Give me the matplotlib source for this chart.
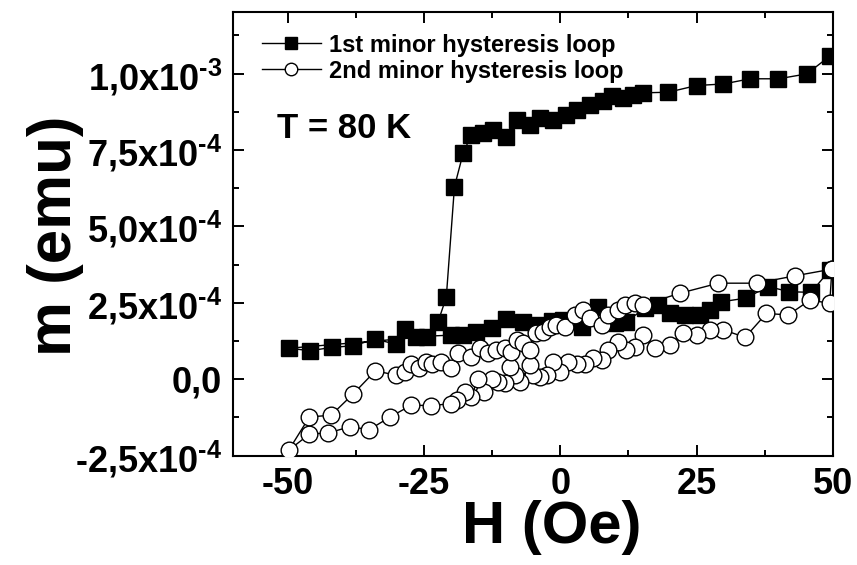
import matplotlib
matplotlib.use('Agg')
import matplotlib.pyplot as plt
from matplotlib.ticker import FixedLocator, MultipleLocator, FixedFormatter

plt.rcParams['font.family'] = ['Liberation Sans', 'DejaVu Sans']
plt.rcParams['font.weight'] = 'bold'
plt.rcParams['mathtext.fontset'] = 'custom'
plt.rcParams['mathtext.rm'] = 'Liberation Sans:bold'
plt.rcParams['mathtext.bf'] = 'Liberation Sans:bold'
plt.rcParams['mathtext.it'] = 'Liberation Sans:bold'
plt.rcParams['mathtext.default'] = 'rm'

# ---- data (m in units of 1e-4 emu) ----
# 1st minor loop: descending lower branch, then ascending through the jump to the upper branch
h1 = [49.4, 46.0, 42.0, 38.1, 34.0, 29.5, 27.4, 25.6, 22.8, 20.1, 17.9, 15.5, 12.1, 10.0,
      7.0, 4.0, 0.5, -1.6, -4.4, -6.8, -9.9, -12.5, -15.4, -17.8, -20.0, -26.4, -28.5,
      -30.1, -33.9, -38.0, -41.9, -45.8, -49.8,
      -24.4, -22.4, -20.9, -19.4, -17.8, -16.3, -14.2, -12.3, -9.9, -8.0, -5.6, -3.8, -1.3,
      1.1, 3.0, 5.4, 7.9, 9.4, 11.5, 13.4, 15.2, 19.8, 25.0, 29.9, 34.8, 40.0, 45.2, 49.4]
m1 = [3.57, 2.84, 2.86, 3.03, 2.65, 2.53, 2.26, 2.10, 2.10, 2.15, 2.43, 2.32, 1.88, 1.85,
      2.37, 1.72, 1.95, 1.90, 1.77, 1.88, 1.96, 1.68, 1.55, 1.44, 1.44, 1.39, 1.63,
      1.14, 1.31, 1.09, 1.04, 0.93, 1.01,
      1.39, 1.88, 2.68, 6.30, 7.40, 8.00, 8.06, 8.16, 7.94, 8.49, 8.33, 8.55, 8.49,
      8.66, 8.82, 8.98, 9.09, 9.26, 9.20, 9.31, 9.37, 9.39, 9.61, 9.66, 9.83, 9.83, 9.99, 10.57]

# 2nd minor loop: descending (lower) branch, then ascending (upper) branch
h2 = [49.8, 49.4, 45.8, 41.8, 37.8, 33.9, 29.9, 27.4, 25.0, 22.5, 20.1, 17.3, 15.2, 13.7,
      12.1, 10.6, 8.8, 7.6, 6.0, 4.5, 3.0, 1.4, -0.1, -1.3, -2.5, -3.8, -5.0, -5.6, -7.4,
      -8.3, -9.3, -10.2, -11.4, -12.6, -13.9, -15.1, -16.3, -17.5, -19.0, -20.0, -23.7,
      -27.3, -31.2, -35.0, -38.6, -42.5, -46.0, -49.8,
      -46.0, -42.0, -38.0, -33.9, -30.1, -28.4, -27.4, -25.9, -24.6, -23.6, -21.8, -20.0,
      -18.8, -16.3, -14.8, -13.2, -11.7, -10.2, -9.0, -8.0, -6.8, -5.6, -4.4, -3.2, -1.9,
      -0.7, 0.8, 2.7, 4.2, 5.4, 7.6, 8.8, 10.6, 11.8, 13.7, 15.2, 21.9, 29.0, 36.0, 43.0, 49.8]
m2 = [3.60, 2.48, 2.59, 2.10, 2.15, 1.37, 1.61, 1.61, 1.44, 1.50, 1.11, 1.01, 1.44, 1.06,
      0.95, 1.22, 0.95, 0.62, 0.68, 0.51, 0.51, 0.57, 0.24, 0.57, 0.13, 0.08, 0.13, 0.46, -0.09,
      0.13, 0.40, -0.14, -0.09, 0.02, -0.42, 0.02, -0.58, -0.42, -0.69, -0.80, -0.87,
      -0.85, -1.24, -1.65, -1.56, -1.76, -1.80, -2.33,
      -1.24, -1.18, -0.49, 0.27, 0.13, 0.24, 0.51, 0.35, 0.57, 0.51, 0.57, 0.35,
      0.84, 0.73, 1.01, 0.84, 0.95, 1.01, 0.90, 1.28, 1.17, 0.95, 1.50, 1.55, 1.71,
      1.77, 1.71, 2.10, 2.26, 1.99, 1.77, 2.10, 2.26, 2.43, 2.48, 2.43, 2.81, 3.14, 3.14, 3.38, 3.60]

labels = ['1st minor hysteresis loop', '2nd minor hysteresis loop']
x_ticks = [-50, -25, 0, 25, 50]
x_ticklabels = ['-50', '-25', '0', '25', '50']
y_ticks = [-2.5e-4, 0.0, 2.5e-4, 5.0e-4, 7.5e-4, 1.0e-3]
y_ticklabels = ['-2,5x10$^{\u20104}$', '0,0', '2,5x10$^{\u20104}$', '5,0x10$^{\u20104}$',
                '7,5x10$^{\u20104}$', '1,0x10$^{\u20103}$']
scale = 1e-4

fig = plt.figure(figsize=(8.57, 5.65), dpi=100)
ax = fig.add_axes([0.2719, 0.1938, 0.7001, 0.7841])

ax.plot(h1, [v * scale for v in m1], color='black', lw=1.0, marker='s', ms=12,
        mfc='black', mec='black', label=labels[0], zorder=2)
ax.plot(h2, [v * scale for v in m2], color='black', lw=1.0, marker='o', ms=12,
        mfc='white', mec='black', mew=1.0, label=labels[1], zorder=3)

ax.set_xlim(-60, 50)
ax.set_ylim(-2.5e-4, 1.2e-3)
ax.xaxis.set_major_locator(FixedLocator(x_ticks))
ax.xaxis.set_major_formatter(FixedFormatter(x_ticklabels))
ax.xaxis.set_minor_locator(MultipleLocator(12.5))
ax.yaxis.set_major_locator(FixedLocator(y_ticks))
ax.yaxis.set_major_formatter(FixedFormatter(y_ticklabels))
ax.yaxis.set_minor_locator(MultipleLocator(1.25e-4))

ax.tick_params(which='both', direction='in', top=True, right=True, width=1.4)
ax.tick_params(which='major', length=8, labelsize=26, pad=8)
ax.tick_params(which='minor', length=4.5)
for lab in ax.get_xticklabels() + ax.get_yticklabels():
    lab.set_fontweight('bold')
for sp in ax.spines.values():
    sp.set_linewidth(1.5)

ax.set_xlabel('H (Oe)', fontsize=43, fontweight='bold')
ax.xaxis.set_label_coords(0.532, -0.100)
ax.xaxis.label.set_va('top')
ax.set_ylabel('m (emu)', fontsize=44.5, fontweight='bold')
ax.yaxis.set_label_coords(-0.248, 0.4955)

ax.text(0.073, 0.737, 'T = 80 K', transform=ax.transAxes, fontsize=25,
        fontweight='bold', va='center', ha='left')

ax.legend(loc='upper left', bbox_to_anchor=(0.048, 0.952), frameon=False,
          handlelength=2.5, handletextpad=0.35, labelspacing=0.12,
          borderpad=0, borderaxespad=0, markerscale=0.75,
          prop={'weight': 'bold', 'size': 17})

fig.savefig('out.png', dpi=100)
